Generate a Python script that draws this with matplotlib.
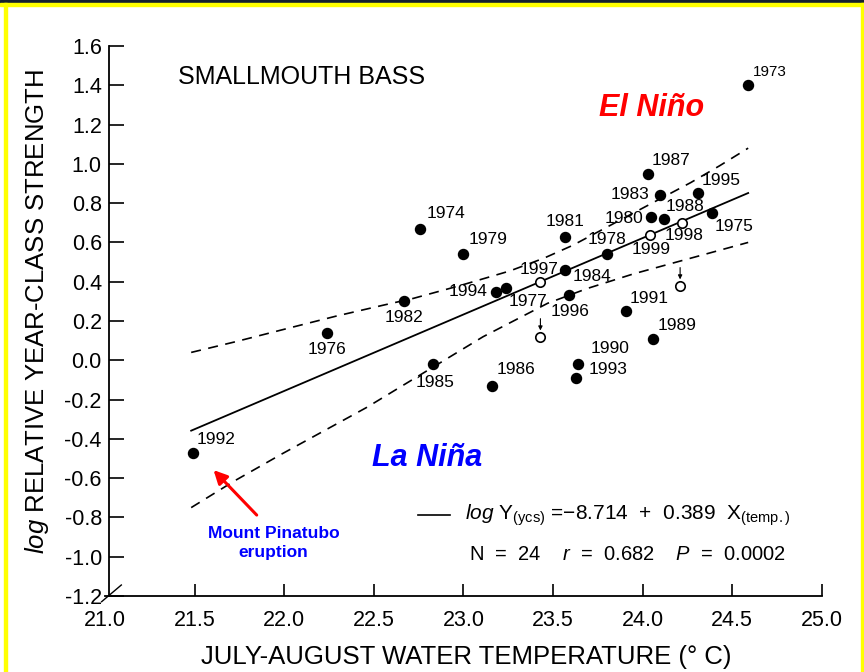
import matplotlib
matplotlib.use("Agg")
import matplotlib.pyplot as plt
from matplotlib.patches import Rectangle

plt.rcParams["font.family"] = ["Liberation Sans", "DejaVu Sans"]
plt.rcParams["mathtext.fontset"] = "custom"
plt.rcParams["mathtext.rm"] = "Liberation Sans"
plt.rcParams["mathtext.it"] = "Liberation Sans:italic"
plt.rcParams["mathtext.bf"] = "Liberation Sans:bold"

# year-class strength vs July-August temperature (filled = used in fit)
years = ["1973", "1987", "1983", "1995", "1980", "1988", "1975", "1978",
         "1981", "1974", "1979", "1984", "1994", "1977", "1996", "1991",
         "1989", "1990", "1993", "1986", "1985", "1982", "1976", "1992"]
temps = [24.59, 24.03, 24.10, 24.31, 24.05, 24.12, 24.39, 23.80,
         23.57, 22.76, 23.00, 23.57, 23.18, 23.24, 23.59, 23.91,
         24.06, 23.64, 23.63, 23.16, 22.83, 22.67, 22.24, 21.49]
ycs = [1.40, 0.95, 0.84, 0.85, 0.73, 0.72, 0.75, 0.54,
       0.63, 0.67, 0.54, 0.46, 0.35, 0.37, 0.33, 0.25,
       0.11, -0.02, -0.09, -0.13, -0.02, 0.30, 0.14, -0.47]

# open circles (recent years, plus two adjusted values marked by arrows)
open_years = ["1997", "1998", "1999", "", ""]
open_temps = [23.43, 24.22, 24.04, 23.43, 24.21]
open_ycs = [0.40, 0.70, 0.64, 0.12, 0.38]
arrow_marked = [False, False, False, True, True]

# regression: log Y = a + b X
intercept = -8.714
slope = 0.389
fit_range = [21.48, 24.59]

# 95% band
upper_x = [21.48, 21.73, 22.03, 22.29, 22.55, 22.72, 22.98, 23.26, 23.45,
           23.61, 23.95, 24.27, 24.43, 24.59]
upper_y = [0.04, 0.095, 0.165, 0.225, 0.28, 0.315, 0.38, 0.455, 0.52,
           0.585, 0.75, 0.905, 0.99, 1.08]
lower_x = [21.48, 21.72, 21.99, 22.27, 22.46, 22.83, 23.11, 23.47, 23.69,
           23.95, 24.19, 24.41, 24.59]
lower_y = [-0.75, -0.615, -0.475, -0.335, -0.24, -0.035, 0.12, 0.29, 0.365,
           0.44, 0.50, 0.555, 0.60]

xticks = [21.0, 21.5, 22.0, 22.5, 23.0, 23.5, 24.0, 24.5, 25.0]
yticks = [-1.2, -1.0, -0.8, -0.6, -0.4, -0.2, 0.0, 0.2, 0.4, 0.6, 0.8, 1.0,
          1.2, 1.4, 1.6]

# label placement in pixels relative to the dot: dx, dy, ha
label_pos = {
    "1973": (5, 13, "left"), "1987": (4, 13.5, "left"),
    "1983": (-11, 1, "right"), "1995": (4, 13, "left"),
    "1980": (-8, -1.5, "right"), "1988": (2, 12, "left"),
    "1975": (2, -13.5, "left"), "1978": (0, 15, "center"),
    "1981": (0, 15, "center"), "1974": (6, 15, "left"),
    "1979": (5, 14.5, "left"), "1984": (7, -6.5, "left"),
    "1994": (-8.5, 0, "right"), "1977": (2, -13.5, "left"),
    "1996": (1, -16.5, "center"), "1991": (3, 12.5, "left"),
    "1989": (4, 13, "left"), "1990": (13, 15.5, "left"),
    "1993": (12, 8, "left"), "1986": (5, 16, "left"),
    "1985": (2, -18, "center"), "1982": (0, -16.5, "center"),
    "1976": (0, -16.5, "center"), "1992": (4, 13, "left"),
    "1997": (-1, 12, "center"), "1998": (-17, -13, "left"),
    "1999": (1.5, -15, "center"),
}

fig = plt.figure(figsize=(8.64, 6.72), dpi=100)
ax = fig.add_axes([105.2 / 864, 1 - 596 / 672, 716.4 / 864, 550 / 672])

fit_y = [intercept + slope * x for x in fit_range]
ax.plot(fit_range, fit_y, color="black", lw=1.3, zorder=2)
ax.plot(upper_x, upper_y, color="black", lw=1.2, dashes=(6, 4.5), zorder=2)
ax.plot(lower_x, lower_y, color="black", lw=1.2, dashes=(6, 4.5), zorder=2)

ax.scatter(temps, ycs, s=52, color="black", zorder=3)
ax.scatter(open_temps, open_ycs, s=46, facecolor="white", edgecolor="black",
           linewidths=1.2, zorder=3)

for x, y, marked in zip(open_temps, open_ycs, arrow_marked):
    if marked:
        ax.annotate("", xy=(x, y), xytext=(0, 13), textcoords="offset points",
                    arrowprops=dict(arrowstyle="-|>", color="black", lw=0.8,
                                    mutation_scale=6, shrinkA=0, shrinkB=4.5))

for yr, x, y in zip(years + open_years, temps + open_temps, ycs + open_ycs):
    if not yr:
        continue
    dx, dy, ha = label_pos[yr]
    size = 11 if yr == "1973" else 12.5
    ax.annotate(yr, (x, y), xytext=(dx, dy), textcoords="offset pixels",
                ha=ha, va="center", fontsize=size)

ax.set_xlim(21.0, 25.0)
ax.set_ylim(-1.2, 1.6)
ax.set_xticks(xticks)
ax.set_yticks(yticks)
ax.set_xticklabels([f"{t:.1f}" for t in xticks])
ax.set_yticklabels([f"{t:.1f}" for t in yticks])
ax.tick_params(axis="y", direction="in", length=11, width=1.2, pad=5,
               labelsize=15.5)
ax.tick_params(axis="x", direction="in", length=8.5, width=1.2, pad=10,
               labelsize=15.5)
ax.xaxis.get_major_ticks()[0].tick1line.set_visible(False)
ax.yaxis.get_major_ticks()[0].tick1line.set_visible(False)
for side in ["top", "right"]:
    ax.spines[side].set_visible(False)
ax.spines["left"].set_position(("data", 21.02))
ax.spines["left"].set_linewidth(1.3)
ax.spines["bottom"].set_linewidth(1.3)
ax.plot([20.98, 21.09], [-1.229, -1.144], color="black", lw=1.0,
        clip_on=False)

ax.text(21.408, 1.444, "SMALLMOUTH BASS", fontsize=18, ha="left",
        va="center")
ax.text(24.05, 1.283, "El Niño", fontsize=22, color="#ff0000",
        fontweight="bold", fontstyle="italic", ha="center", va="center")
ax.text(22.795, -0.499, "La Niña", fontsize=22, color="#0000ff",
        fontweight="bold", fontstyle="italic", ha="center", va="center")
ax.text(21.94, -0.93, "Mount Pinatubo\neruption", fontsize=12.5,
        color="#0000ff", fontweight="bold", ha="center", va="center",
        linespacing=1.35)
ax.annotate("", xy=(21.605, -0.559), xytext=(21.846, -0.788),
            arrowprops=dict(arrowstyle="-|>", color="#ff0000", lw=2.2,
                            mutation_scale=20, shrinkA=0, shrinkB=0))

ax.plot([22.748, 22.926], [-0.79, -0.79], color="black", lw=1.2)
ax.text(23.01, -0.79,
        r"$\mathit{log}$ Y$_{\mathrm{(ycs)}}$ =−8.714  +  0.389  X$_{\mathrm{(temp{.})}}$",
        fontsize=15, ha="left", va="center")
ax.text(23.03, -0.99,
        r"N  =  24    $\mathit{r}$  =  0.682    $\mathit{P}$  =  0.0002",
        fontsize=14.5, ha="left", va="center")

fig.text(466 / 864, 1 - 656.7 / 672,
         "JULY-AUGUST WATER TEMPERATURE (° C)", fontsize=18.5,
         ha="center", va="center")
fig.text(37 / 864, 1 - 312 / 672,
         r"$\mathit{log}$ RELATIVE YEAR-CLASS STRENGTH", fontsize=18.5,
         ha="center", va="center", rotation=90)

# frame: dark strip on top, thin yellow border
fig.patches.append(Rectangle((0, 1 - 3 / 672), 1, 3 / 672,
                             transform=fig.transFigure, color="#14202e"))
fig.patches.append(Rectangle((0, 1 - 6 / 672), 1, 3 / 672,
                             transform=fig.transFigure, color="#ffff00"))
fig.patches.append(Rectangle((4 / 864, 0), 3 / 864, 1 - 3 / 672,
                             transform=fig.transFigure, color="#ffff00"))
fig.patches.append(Rectangle((861 / 864, 0), 3 / 864, 1 - 3 / 672,
                             transform=fig.transFigure, color="#ffff00"))

fig.savefig("out.png", dpi=100, facecolor="white")
